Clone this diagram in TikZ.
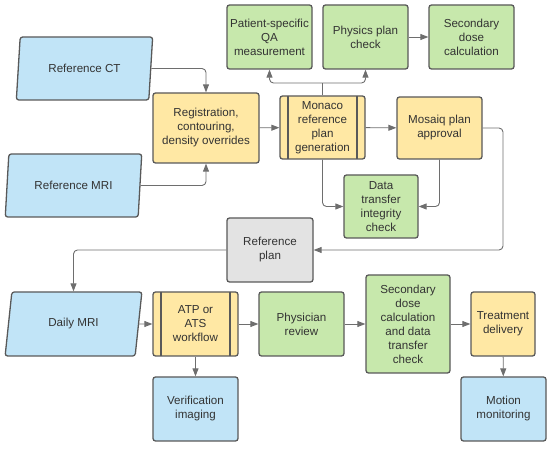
\documentclass[tikz,border=0pt]{standalone}
\usepackage{fontspec}
\setmainfont{Liberation Sans}
\usetikzlibrary{arrows.meta,shapes.geometric}
\definecolor{boxblue}{HTML}{C1E4F7}
\definecolor{boxgreen}{HTML}{C7E8AC}
\definecolor{boxyellow}{HTML}{FFE8A4}
\definecolor{boxgray}{HTML}{E3E3E3}
\definecolor{boxline}{HTML}{595959}
\definecolor{arrline}{HTML}{6E6E6E}
\definecolor{textgray}{HTML}{333333}

\begin{document}
\begin{tikzpicture}[x=1pt,y=-1pt,
  box/.style={draw=boxline, line width=1.3pt, rounded corners=2.5pt, align=center, text=textgray,
    font=\fontsize{11.6}{14}\selectfont, inner sep=0pt, minimum width=85pt, minimum height=64pt},
  greenbox/.style={box, fill=boxgreen},
  bluebox/.style={box, fill=boxblue},
  yellowbox/.style={box, fill=boxyellow},
  procbox/.style={box, fill=boxyellow, path picture={
    \draw[boxline, line width=1.3pt] ([xshift=8pt]path picture bounding box.north west) -- ([xshift=8pt]path picture bounding box.south west)
      ([xshift=-8pt]path picture bounding box.north east) -- ([xshift=-8pt]path picture bounding box.south east);}},
  databox/.style={box, fill=boxblue, trapezium, trapezium left angle=75.7, trapezium right angle=104.3,
    trapezium stretches=true, minimum width=137pt, minimum height=63pt},
  conn/.style={draw=arrline, line width=0.9pt, rounded corners=4pt, -{Triangle[length=8pt,width=6pt]}}]

\useasboundingbox (0,0) rectangle (550,449);

%top row
\node[greenbox] (psqa) at (269.5,37) {Patient-specific\\QA\\measurement};
\node[greenbox] (physics) at (365.5,37) {Physics plan\\check};
\node[greenbox] (secdose) at (471.5,37) {Secondary\\dose\\calculation};

%reference planning
\node[databox] (refct) at (84.5,68.5) {Reference CT};
\node[databox] (refmri) at (73.5,185.5) {Reference MRI};
\node[yellowbox, minimum width=106pt, minimum height=70pt] (reg) at (206,128) {Registration,\\contouring,\\density overrides};
\node[procbox, minimum height=63pt] (monaco) at (322.5,127.5) {Monaco\\reference\\plan\\generation};
\node[yellowbox, minimum height=62pt] (mosaiq) at (439.5,128) {Mosaiq plan\\approval};
\node[greenbox, minimum width=74pt, minimum height=63pt] (dti) at (381,206.5) {Data\\transfer\\integrity\\check};
\node[box, fill=boxgray, minimum width=86pt] (refplan) at (270,250) {Reference\\plan};

%daily workflow
\node[databox, minimum height=64pt] (daily) at (73.5,324) {Daily MRI};
\node[procbox] (atp) at (195.5,324) {ATP or\\ATS\\workflow};
\node[bluebox] (verif) at (195.5,409) {Verification\\imaging};
\node[greenbox] (phys) at (301.5,324) {Physician\\review};
\node[greenbox, minimum width=84pt, minimum height=98pt] (secdc) at (408,324) {Secondary\\dose\\calculation\\and data\\transfer\\check};
\node[yellowbox, minimum width=64pt] (treat) at (503,324) {Treatment\\delivery};
\node[bluebox] (motion) at (503.5,409) {Motion\\monitoring};

\coordinate (split) at (322.5,83);
\coordinate (mright) at (503,250);

\draw[conn] (refct.east) -| (reg.north);
\draw[conn] (refmri.east) -| (reg.south);
\draw[conn] (reg) -- (monaco);
\draw[draw=arrline, line width=0.9pt] (monaco.north) -- (split);
\draw[conn] (split) -| (psqa.south);
\draw[conn] (split) -| (physics.south);
\draw[conn] (physics) -- (secdose);
\draw[conn] (monaco) -- (mosaiq);
\draw[conn] (monaco.south) |- (dti.west);
\draw[conn] (mosaiq.south) |- (dti.east);
\draw[conn] (mosaiq.east) -| (mright) -- (refplan.east);
\draw[conn] (refplan.west) -| (daily.north);
\draw[conn] (daily.east) -- (atp.west);
\draw[conn] (atp) -- (verif);
\draw[conn] (atp) -- (phys);
\draw[conn] (phys) -- (secdc);
\draw[conn] (secdc) -- (treat);
\draw[conn] (treat) -- (motion);

\end{tikzpicture}
\end{document}
